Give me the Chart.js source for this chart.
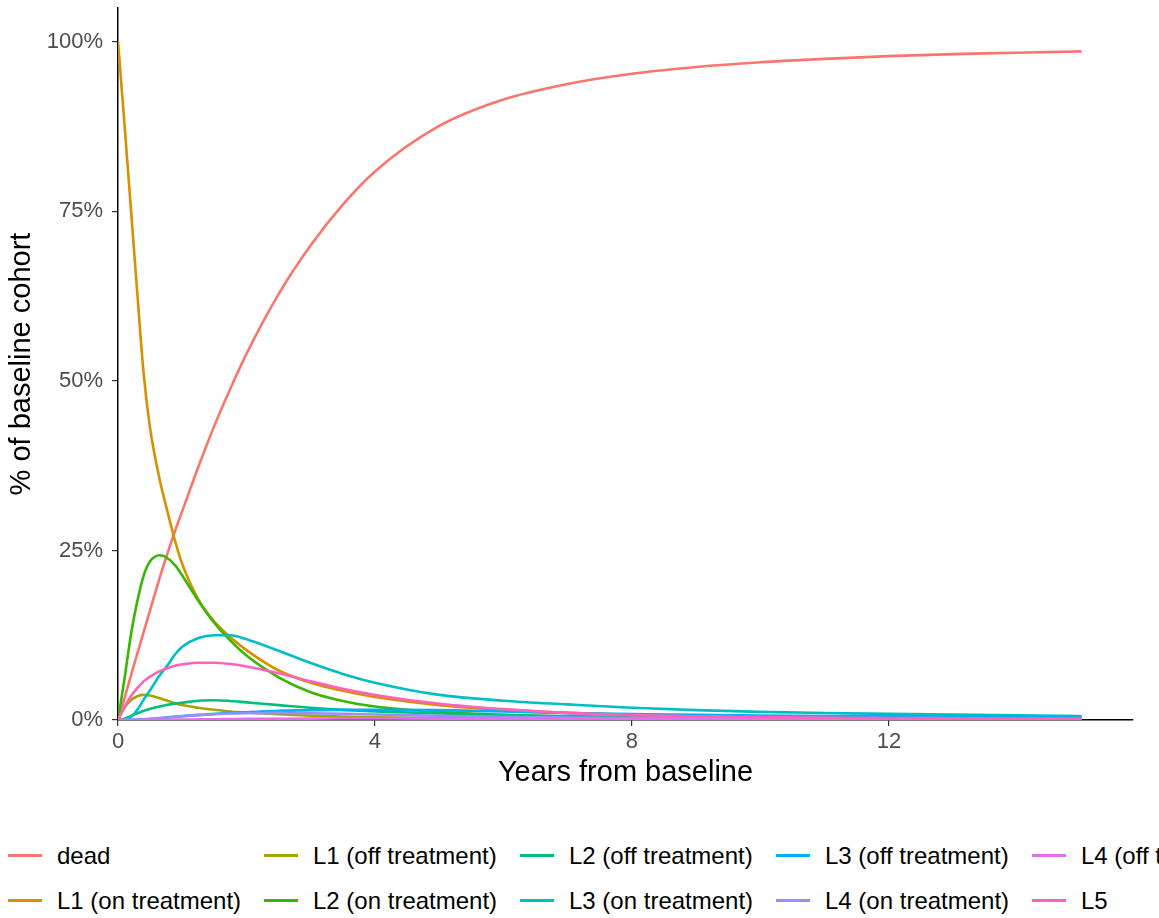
<!DOCTYPE html>
<html>
<head>
<meta charset="utf-8">
<script src="https://cdn.jsdelivr.net/npm/chart.js@4.4.1/dist/chart.umd.min.js"></script>
<style>
  body { margin: 0; background: #fff; width: 1159px; height: 918px; overflow: hidden; position: relative;
         font-family: 'Liberation Sans', Arial, sans-serif; }
  #wrap { position: absolute; left: 0; top: 0; width: 1159px; height: 800px; }
  #legend { position: absolute; left: 8px; top: 833px; display: grid; grid-auto-flow: column;
            grid-template-columns: repeat(5, 256px); grid-template-rows: 45px 45px; white-space: nowrap; }
  .item { display: flex; align-items: center; font-size: 24px; color: #000; }
  .key { width: 34px; height: 3px; margin-right: 15px; flex: none; }
</style>
</head>
<body>
<div id="wrap"><canvas id="stateChart" width="1159" height="800"></canvas></div>
<div id="legend"></div>
<script>
// ---------- data ----------
const years = [0, 0.1, 0.2, 0.3, 0.4, 0.5, 0.65, 0.75, 0.9, 1, 1.25, 1.5, 1.75, 2, 2.5, 3, 3.5, 4, 5, 6, 7, 8, 9, 10, 11, 12, 13, 14, 15];

const states = ['dead', 'L1 (on treatment)', 'L1 (off treatment)', 'L2 (on treatment)', 'L2 (off treatment)',
  'L3 (on treatment)', 'L3 (off treatment)', 'L4 (on treatment)', 'L4 (off treatment)', 'L5'];
const colors = ['#F8766D', '#D89000', '#A3A500', '#39B600', '#00BF7D', '#00BFC4', '#00B0F6', '#9590FF', '#E76BF3', '#FF62BC'];

const dead   = [0, 3.2, 6.5, 9.8, 13, 16.2, 21, 24, 28.2, 30.8, 37.3, 43.4, 48.9, 54, 62.8, 70, 76, 80.9, 87.6, 91.5, 93.8, 95.3, 96.3, 97, 97.5, 97.9, 98.2, 98.4, 98.6];
const l1On   = [100, 88, 75.5, 63, 51, 43, 35.4, 31.5, 26, 23, 17.8, 14.5, 12.2, 10.3, 7.3, 5.5, 4.3, 3.4, 2.2, 1.5, 1.05, 0.75, 0.55, 0.42, 0.33, 0.27, 0.22, 0.18, 0.15];
const l1Off  = [0, 1.8, 2.9, 3.5, 3.7, 3.6, 3.2, 2.9, 2.45, 2.2, 1.8, 1.5, 1.25, 1.1, 0.85, 0.65, 0.5, 0.4, 0.28, 0.2, 0.16, 0.12, 0.1, 0.08, 0.07, 0.06, 0.05, 0.05, 0.04];
const l2On   = [0, 6, 12.5, 17.5, 21.3, 23.4, 24.3, 24, 22.7, 21.3, 17.6, 14.3, 11.7, 9.5, 6.3, 4.1, 2.8, 2.0, 1.2, 0.75, 0.5, 0.35, 0.27, 0.2, 0.16, 0.13, 0.1, 0.08, 0.07];
const l2Off  = [0, 0.2, 0.6, 1.0, 1.35, 1.65, 2.0, 2.2, 2.45, 2.55, 2.85, 2.92, 2.8, 2.6, 2.2, 1.8, 1.5, 1.27, 0.95, 0.72, 0.56, 0.45, 0.37, 0.3, 0.26, 0.22, 0.19, 0.17, 0.15];
const l3On   = [0, 0.05, 0.4, 1.5, 3.0, 4.4, 6.6, 7.8, 9.8, 10.8, 12.1, 12.5, 12.5, 11.9, 10.2, 8.4, 6.8, 5.5, 3.7, 2.85, 2.3, 1.8, 1.45, 1.2, 1.03, 0.9, 0.8, 0.7, 0.6];
const l3Off  = [0, 0, 0.02, 0.05, 0.1, 0.15, 0.25, 0.35, 0.48, 0.55, 0.75, 0.9, 1.05, 1.15, 1.35, 1.45, 1.5, 1.52, 1.45, 1.25, 1.02, 0.88, 0.75, 0.66, 0.6, 0.56, 0.52, 0.5, 0.48];
const l4On   = [0, 0.01, 0.03, 0.06, 0.12, 0.18, 0.3, 0.38, 0.5, 0.57, 0.72, 0.85, 0.95, 1.0, 1.05, 1.0, 0.92, 0.82, 0.62, 0.47, 0.36, 0.29, 0.24, 0.2, 0.17, 0.15, 0.13, 0.11, 0.1];
const l4Off  = [0, 0, 0, 0.01, 0.01, 0.02, 0.03, 0.04, 0.05, 0.06, 0.09, 0.12, 0.14, 0.16, 0.19, 0.21, 0.22, 0.22, 0.21, 0.19, 0.16, 0.14, 0.12, 0.1, 0.09, 0.08, 0.07, 0.06, 0.06];
const l5     = [0, 1.9, 3.5, 4.7, 5.7, 6.4, 7.2, 7.6, 8.05, 8.2, 8.45, 8.45, 8.25, 7.9, 6.9, 5.7, 4.6, 3.7, 2.4, 1.6, 1.05, 0.72, 0.55, 0.42, 0.36, 0.3, 0.26, 0.22, 0.2];

const series = [dead, l1On, l1Off, l2On, l2Off, l3On, l3Off, l4On, l4Off, l5];

const xTicks = [0, 4, 8, 12];
const yTicks = [0, 25, 50, 75, 100];

// ---------- build chart ----------
const FONT = "'Liberation Sans', Arial, sans-serif";

const datasets = series.map((vals, i) => ({
  label: states[i],
  data: vals.map((v, j) => ({ x: years[j], y: v })),
  borderColor: colors[i],
  borderWidth: 2.6,
  pointRadius: 0,
  fill: false,
  cubicInterpolationMode: 'monotone',
  order: -i // later states drawn on top, like ggplot
}));

const ctx = document.getElementById('stateChart').getContext('2d');
new Chart(ctx, {
  type: 'line',
  data: { datasets },
  options: {
    responsive: false,
    animation: false,
    layout: { padding: { left: 0, right: 26, top: 8, bottom: 10 } },
    plugins: { legend: { display: false }, tooltip: { enabled: false } },
    scales: {
      x: {
        type: 'linear', min: 0, max: 15.8,
        afterBuildTicks: s => { s.ticks = xTicks.map(v => ({ value: v })); },
        afterFit: s => { s.height = 70; s.paddingLeft = 0; s.paddingRight = 0; },
        grid: { display: true, drawOnChartArea: false, drawTicks: true, tickLength: 6, color: '#333', lineWidth: 1.2 },
        border: { display: true, color: '#000', width: 1.5 },
        ticks: { color: '#4D4D4D', padding: 3, font: { family: FONT, size: 22 }, maxRotation: 0 },
        title: { display: true, text: 'Years from baseline', color: '#000', padding: { top: 0, bottom: 0 },
                 font: { family: FONT, size: 29 } }
      },
      y: {
        min: 0, max: 105,
        afterBuildTicks: s => { s.ticks = yTicks.map(v => ({ value: v })); },
        afterFit: s => { s.width = 118; s.paddingTop = 0; s.paddingBottom = 0; },
        grid: { display: true, drawOnChartArea: false, drawTicks: true, tickLength: 6, color: '#333', lineWidth: 1.2 },
        border: { display: true, color: '#000', width: 1.5 },
        ticks: { color: '#4D4D4D', padding: 9, font: { family: FONT, size: 22 }, callback: v => v + '%' },
        title: { display: true, text: '% of baseline cohort', color: '#000', padding: { top: 4.6, bottom: 0 },
                 font: { family: FONT, size: 29 } }
      }
    }
  }
});

// ---------- legend (column-major, two rows, as in the reference) ----------
const legendEl = document.getElementById('legend');
states.forEach((name, i) => {
  const item = document.createElement('div');
  item.className = 'item';
  item.innerHTML = `<span class="key" style="background:${colors[i]}"></span><span>${name}</span>`;
  legendEl.appendChild(item);
});
</script>
</body>
</html>
